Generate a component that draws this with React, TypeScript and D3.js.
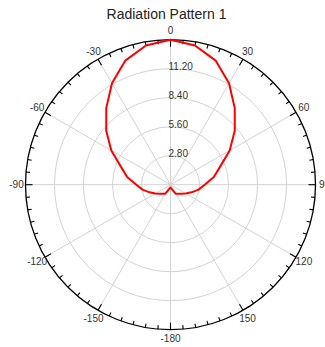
import React from "react";
import * as d3 from "d3";

const title = "Radiation Pattern 1";
const angles = [0, 10, 20, 30, 40, 50, 60, 70, 80, 90, 100, 110, 120, 130, 140, 150, 160, 170, 180,
  190, 200, 210, 220, 230, 240, 250, 260, 270, 280, 290, 300, 310, 320, 330, 340, 350];
const values = [14.0, 13.65, 12.75, 11.3, 9.65, 8.1, 6.6, 5.1, 4.25, 3.3, 2.75, 2.15, 1.7, 1.35, 1.15, 1.0, 0.5, 0.35, 0.28,
  0.35, 0.5, 1.0, 1.15, 1.35, 1.7, 2.15, 2.75, 3.3, 4.25, 5.1, 6.6, 8.1, 9.65, 11.3, 12.75, 13.65];
const ringValues = [2.8, 5.6, 8.4, 11.2];
const ringLabels = ["2.80", "5.60", "8.40", "11.20"];
const radialMax = 14;
const spokeAngles = [0, 30, 60, 90, 120, 150, 180, 210, 240, 270, 300, 330];
const angleLabels = ["0", "30", "60", "90", "120", "150", "-180", "-150", "-120", "-90", "-60", "-30"];

const W = 325, H = 347;
const cx = 170.5, cy = 184.7, R = 145;
const FONT = "'Liberation Sans', Arial, sans-serif";

export default function App() {
  const r = d3.scaleLinear().domain([0, radialMax]).range([0, R]);
  const toRad = (deg: number) => (deg * Math.PI) / 180;
  const line = d3
    .lineRadial<number>()
    .angle((_, i) => toRad(angles[i]))
    .radius((d) => r(d))
    .curve(d3.curveLinearClosed);

  const minorTicks = d3.range(0, 360, 5);

  return (
    <svg width={W} height={H} style={{ position: "absolute", left: 0, top: 0, background: "#fff" }}>
      <text x={166.5} y={19} textAnchor="middle" fontFamily={FONT} fontSize={14} fill="#222">
        {title}
      </text>
      <g transform={`translate(${cx},${cy})`}>
        {ringValues.map((v) => (
          <circle key={v} r={r(v)} fill="none" stroke="#d3d3d3" strokeWidth={1} />
        ))}
        {spokeAngles.map((a) => (
          <line
            key={a}
            x1={0}
            y1={0}
            x2={R * Math.sin(toRad(a))}
            y2={-R * Math.cos(toRad(a))}
            stroke="#d3d3d3"
            strokeWidth={1}
          />
        ))}
        <circle r={R} fill="none" stroke="#000" strokeWidth={1.3} />
        {minorTicks.map((a) => {
          const len = a % 30 === 0 ? 7 : 4;
          const s = Math.sin(toRad(a)), c = Math.cos(toRad(a));
          return (
            <line
              key={a}
              x1={R * s}
              y1={-R * c}
              x2={(R - len) * s}
              y2={-(R - len) * c}
              stroke="#000"
              strokeWidth={1.1}
            />
          );
        })}
        {spokeAngles.map((a, i) => (
          <text
            key={a}
            x={154 * Math.sin(toRad(a))}
            y={-154 * Math.cos(toRad(a)) + 3.5}
            textAnchor="middle"
            fontFamily={FONT}
            fontSize={10}
            fill="#333"
          >
            {angleLabels[i]}
          </text>
        ))}
        {ringValues.map((v, i) => (
          <text key={v} x={-2} y={-r(v) + 1.5} fontFamily={FONT} fontSize={10} fill="#333">
            {ringLabels[i]}
          </text>
        ))}
        <path d={line(values) || ""} fill="none" stroke="#ff0000" strokeWidth={2} strokeLinejoin="round" />
      </g>
    </svg>
  );
}
